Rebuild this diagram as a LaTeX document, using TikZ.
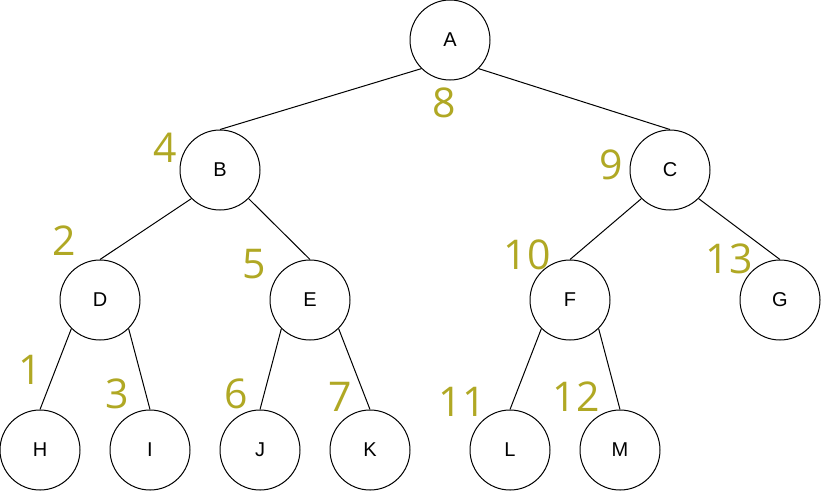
\documentclass[tikz,border=0pt]{standalone}
\usepackage{fontspec}
\setmainfont{Liberation Sans}
\newfontfamily\numfont{Open Sans}
\newfontfamily\letterfont{Liberation Sans}
\definecolor{olivelabel}{RGB}{176,168,36}
\tikzset{
  treenode/.style={circle,draw=black,line width=1pt,minimum size=80pt,inner sep=0pt},
  numlabel/.style={inner sep=0pt,text=olivelabel},
  edge/.style={draw=black,line width=1pt}}
\newcommand{\lt}[1]{{\letterfont\fontsize{20}{20}\selectfont #1}}
\newcommand{\nm}[1]{{\numfont\fontsize{41}{41}\selectfont #1}}
\begin{document}
\begin{tikzpicture}[x=1pt,y=-1pt]
\useasboundingbox (0,0) rectangle (821,491);
\node[treenode] (A) at (450,40) {\lt{A}};
\node[treenode] (B) at (220,170) {\lt{B}};
\node[treenode] (C) at (670,170) {\lt{C}};
\node[treenode] (D) at (100,300) {\lt{D}};
\node[treenode] (E) at (310,300) {\lt{E}};
\node[treenode] (F) at (570,300) {\lt{F}};
\node[treenode] (G) at (780,300) {\lt{G}};
\node[treenode] (H) at (40,450) {\lt{H}};
\node[treenode] (I) at (150,450) {\lt{I}};
\node[treenode] (J) at (260,450) {\lt{J}};
\node[treenode] (K) at (370,450) {\lt{K}};
\node[treenode] (L) at (510,450) {\lt{L}};
\node[treenode] (M) at (620,450) {\lt{M}};
\path[edge] (A.south west) -- (B.north);
\path[edge] (A.south east) -- (C.north);
\path[edge] (B.south west) -- (D.north);
\path[edge] (B.south east) -- (E.north);
\path[edge] (C.south west) -- (F.north);
\path[edge] (C.south east) -- (G.north);
\path[edge] (D.south west) -- (H.north);
\path[edge] (D.south east) -- (I.north);
\path[edge] (E.south west) -- (J.north);
\path[edge] (E.south east) -- (K.north);
\path[edge] (F.south west) -- (L.north);
\path[edge] (F.south east) -- (M.north);
\node[numlabel] (n8) at (444,103) {\nm{8}};
\node[numlabel] (n4) at (165,147.5) {\nm{4}};
\node[numlabel] (n9) at (611,165) {\nm{9}};
\node[numlabel] (n2) at (64,241) {\nm{2}};
\node[numlabel] (n5) at (254,264) {\nm{5}};
\node[numlabel] (n10) at (527,255) {\nm{10}};
\node[numlabel] (n13) at (729,259) {\nm{13}};
\node[numlabel] (n1) at (30,370) {\nm{1}};
\node[numlabel] (n3) at (117,394) {\nm{3}};
\node[numlabel] (n6) at (236,394) {\nm{6}};
\node[numlabel] (n7) at (340,397) {\nm{7}};
\node[numlabel] (n11) at (462,402) {\nm{11}};
\node[numlabel] (n12) at (576,397) {\nm{12}};
\end{tikzpicture}
\end{document}
